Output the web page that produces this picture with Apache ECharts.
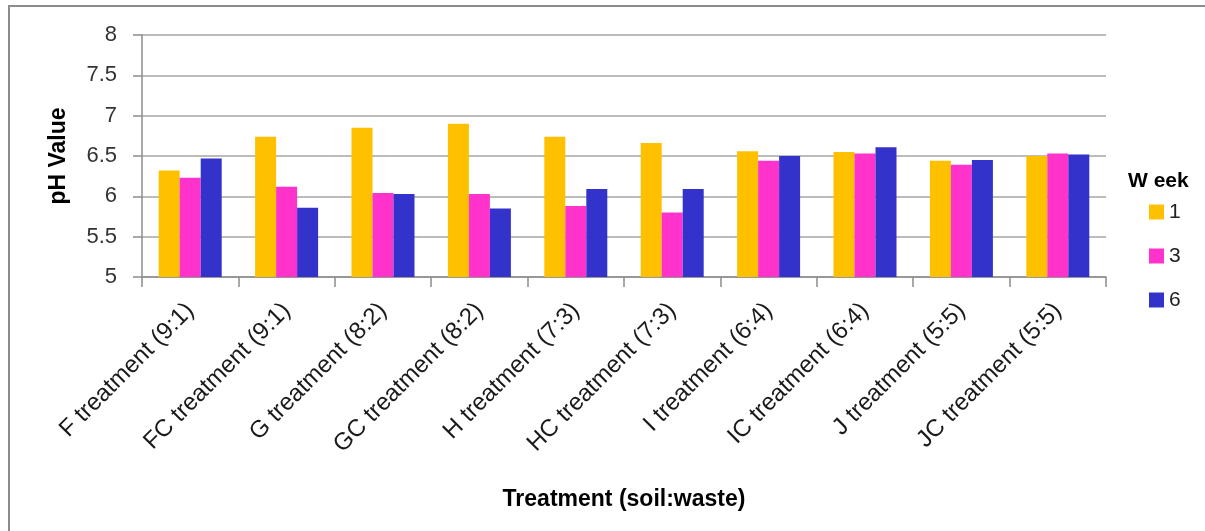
<!DOCTYPE html>
<html>
<head>
<meta charset="utf-8">
<script src="https://cdn.jsdelivr.net/npm/echarts@6/dist/echarts.min.js"></script>
<style>
  html, body { margin: 0; padding: 0; background: #fff; }
  #chart { width: 1205px; height: 531px; }
</style>
</head>
<body>
<div id="chart"></div>
<script>
// Treatments (soil:waste ratio)
const categories = [
  'F treatment (9:1)', 'FC treatment (9:1)', 'G treatment (8:2)', 'GC treatment (8:2)',
  'H treatment (7:3)', 'HC treatment (7:3)', 'I treatment (6:4)', 'IC treatment (6:4)',
  'J treatment (5:5)', 'JC treatment (5:5)'
];
// pH value per week
const week1 = [6.32, 6.74, 6.85, 6.90, 6.74, 6.66, 6.56, 6.55, 6.44, 6.50];
const week3 = [6.23, 6.12, 6.04, 6.03, 5.88, 5.80, 6.44, 6.53, 6.39, 6.53];
const week6 = [6.47, 5.86, 6.03, 5.85, 6.09, 6.09, 6.50, 6.61, 6.45, 6.52];
const weekNames = ['1', '3', '6'];
const colors = ['#FFC000', '#FF33CC', '#3333CC'];

const font = 'Liberation Sans, Arial, sans-serif';
const chart = echarts.init(document.getElementById('chart'));

const barSeries = [week1, week3, week6].map((vals, i) => ({
  name: weekNames[i],
  type: 'bar',
  data: vals,
  barWidth: 21,
  barGap: '0%',
  itemStyle: { color: colors[i] },
  animation: false
}));

chart.setOption({
  backgroundColor: '#fff',
  animation: false,
  grid: { left: 142, right: 99, top: 35, bottom: 254, containLabel: false },
  xAxis: {
    type: 'category',
    data: categories,
    name: 'Treatment (soil:waste)',
    nameLocation: 'middle',
    nameGap: 211,
    nameTextStyle: { fontFamily: font, fontSize: 23, fontWeight: 'bold', color: '#000' },
    axisLine: { lineStyle: { color: '#8c8c8c', width: 1.5 } },
    axisTick: { show: true, alignWithLabel: false, length: 10, lineStyle: { color: '#8c8c8c', width: 1.5 } },
    axisLabel: { rotate: 45, interval: 0, margin: 30, fontFamily: font, fontSize: 24, color: '#1a1a1a' }
  },
  yAxis: {
    type: 'value',
    min: 5, max: 8, interval: 0.5,
    name: 'pH Value',
    nameLocation: 'middle',
    nameGap: 72,
    nameRotate: 90,
    nameTextStyle: { fontFamily: font, fontSize: 23, fontWeight: 'bold', color: '#000' },
    axisLine: { show: true, lineStyle: { color: '#8c8c8c', width: 1.5 } },
    axisTick: { show: true, length: 9, lineStyle: { color: '#8c8c8c', width: 1.5 } },
    axisLabel: { margin: 25, fontFamily: font, fontSize: 22, color: '#333' },
    splitLine: { lineStyle: { color: '#a6a6a6', width: 1.5 } }
  },
  legend: {
    orient: 'vertical',
    left: 1144,
    top: 196,
    itemWidth: 15,
    itemHeight: 15,
    itemGap: 22,
    icon: 'rect',
    data: weekNames,
    textStyle: { fontFamily: font, fontSize: 21, color: '#222', lineHeight: 22 }
  },
  graphic: [
    {
      type: 'rect',
      shape: { x: 9, y: 6, width: 1400, height: 800 },
      style: { fill: 'none', stroke: '#8c8c8c', lineWidth: 2 },
      silent: true
    },
    {
      type: 'text',
      left: 1128,
      top: 171,
      style: { text: 'W eek', font: 'bold 21px ' + font, fill: '#000' }
    }
  ],
  series: barSeries
});
</script>
</body>
</html>
